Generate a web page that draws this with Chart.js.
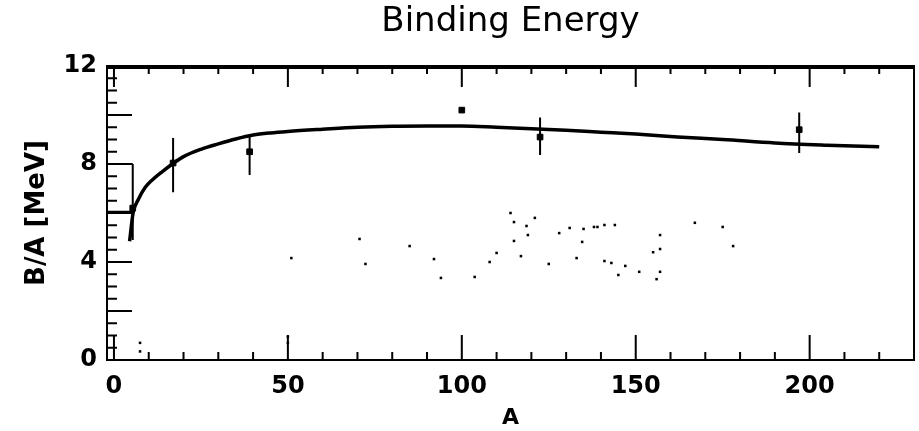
<!DOCTYPE html>
<html><head><meta charset="utf-8">
<script src="https://cdn.jsdelivr.net/npm/chart.js@4/dist/chart.umd.min.js"></script>
<style>html,body{margin:0;padding:0;background:#fff}canvas{display:block}</style>
</head><body>
<canvas id="c" width="919" height="431"></canvas>
<script>
const titleText = 'Binding Energy';
const xTitle = 'A';
const yTitle = 'B/A [MeV]';
const xTickValues = [0, 50, 100, 150, 200];
const yTickValues = [0, 4, 8, 12];

// smooth curve (mass-formula fit)
const curveA = [4.5, 5.5, 7, 9, 11, 14, 17, 20, 25, 30, 35, 40, 45, 50, 60, 70, 80, 90, 100, 110, 120, 130, 140, 150, 162, 175, 190, 205, 220];
const curveY = [4.85, 6.0, 6.55, 7.05, 7.35, 7.7, 8.02, 8.3, 8.6, 8.82, 9.02, 9.18, 9.27, 9.33, 9.42, 9.5, 9.54, 9.55, 9.55, 9.5, 9.44, 9.38, 9.3, 9.22, 9.1, 9.0, 8.86, 8.77, 8.7];

// measured points with error bars
const pointA = [5.4, 17, 39, 100, 122.5, 197];
const pointY = [6.2, 8.04, 8.5, 10.2, 9.1, 9.4];
const errLow = [4.9, 6.85, 7.55, null, 8.37, 8.45];
const errHigh = [8.0, 9.06, 9.15, null, 9.9, 10.1];

// bracket at the left (horizontal marks at 8 and 6)
const boxA = [-2, 5.4, null, -2, 5.4];
const boxY = [8, 8, null, 6.05, 6.05];

// faint scattered specks
const noiseA = [51, 70.6, 72.3, 85, 92, 94, 103.7, 108, 110, 114, 115, 115, 118.6, 119, 121, 117, 125, 128, 131, 133, 134.6, 135, 138, 139, 141, 144, 141, 143, 147, 145, 151, 157, 157, 155, 157, 156, 167, 175, 178, 7.5, 7.5, 50, 50];
const noiseY = [4.16, 4.94, 3.92, 4.65, 4.12, 3.35, 3.39, 4.0, 4.37, 6.0, 5.63, 4.86, 5.47, 5.1, 5.8, 4.24, 3.92, 5.18, 5.39, 4.16, 4.82, 5.35, 5.43, 5.43, 5.51, 5.51, 4.04, 3.96, 3.84, 3.47, 3.6, 5.1, 4.53, 4.4, 3.6, 3.3, 5.6, 5.43, 4.65, 0.35, 0.7, 0.7, 0.95];

const curveData = curveA.map((a, i) => ({x: a, y: curveY[i]}));
const pointData = pointA.map((a, i) => ({x: a, y: pointY[i]}));
const errData = [];
pointA.forEach((a, i) => {
  if (errLow[i] === null) return;
  errData.push({x: a, y: errLow[i]}, {x: a, y: errHigh[i]}, {x: a, y: null});
});
const boxData = boxA.map((a, i) => ({x: a === null ? 0 : a, y: boxY[i]}));
const noiseData = noiseA.map((a, i) => ({x: a, y: noiseY[i]}));

const frameTicks = {
  id: 'frameTicks',
  afterDraw(chart) {
    const ctx = chart.ctx;
    const xs = chart.scales.x, ys = chart.scales.y;
    const {left, right, top, bottom} = chart.chartArea;
    ctx.save();
    ctx.strokeStyle = '#000';
    ctx.lineWidth = 2;
    ctx.beginPath();
    for (let v = 0; v <= 220; v += 10) {
      const px = xs.getPixelForValue(v);
      const major = v % 50 === 0;
      ctx.moveTo(px, bottom); ctx.lineTo(px, bottom - (major ? 25 : 8));
      ctx.moveTo(px, top); ctx.lineTo(px, top + (major ? 21 : 8));
    }
    for (let v = 0; v <= 12; v += 0.5) {
      const py = ys.getPixelForValue(v);
      const major = v % 2 === 0;
      ctx.moveTo(left, py); ctx.lineTo(left + (major ? 25 : 10), py);
    }
    ctx.stroke();
    ctx.lineWidth = 2;
    ctx.strokeRect(left, top, right - left, bottom - top);
    ctx.lineWidth = 4;
    ctx.beginPath(); ctx.moveTo(left, top + 1); ctx.lineTo(right, top + 1); ctx.stroke();
    ctx.restore();
  }
};

new Chart(document.getElementById('c'), {
  type: 'line',
  data: {
    datasets: [
      {label: 'fit', data: curveData, borderColor: '#000', borderWidth: 3.5, pointRadius: 0, cubicInterpolationMode: 'monotone', fill: false},
      {label: 'errors', data: errData, borderColor: '#000', borderWidth: 2, pointRadius: 0, spanGaps: false, fill: false},
      {label: 'box', data: boxData, borderColor: '#000', borderWidth: 2, pointRadius: 0, spanGaps: false, fill: false},
      {label: 'points', data: pointData, showLine: false, pointStyle: 'rect', pointRadius: 4, backgroundColor: '#000', borderColor: '#000'},
      {label: 'specks', data: noiseData, showLine: false, pointStyle: 'rect', pointRadius: 1.8, backgroundColor: '#000', borderColor: '#000', borderWidth: 0}
    ]
  },
  options: {
    responsive: false,
    animation: false,
    devicePixelRatio: 1,
    layout: {padding: {top: 0, right: 2, bottom: 0, left: 0}},
    plugins: {
      legend: {display: false},
      tooltip: {enabled: false},
      title: {
        display: true, text: titleText, fullSize: false, color: '#000',
        font: {family: 'DejaVu Sans', size: 34, weight: 'normal'},
        padding: {top: 2, bottom: 23.2}
      }
    },
    scales: {
      x: {
        type: 'linear', min: -2, max: 230,
        afterBuildTicks: s => { s.ticks = xTickValues.map(v => ({value: v})); },
        afterFit: s => { s.height = 71; },
        grid: {display: false, drawTicks: false},
        border: {display: false},
        ticks: {color: '#000', padding: 12, maxRotation: 0, font: {family: 'DejaVu Sans', size: 24, weight: 'bold'}},
        title: {display: true, text: xTitle, color: '#000', font: {family: 'DejaVu Sans', size: 22, weight: 'bold'}, padding: {top: 0, bottom: 0}}
      },
      y: {
        type: 'linear', min: 0, max: 12,
        afterBuildTicks: s => { s.ticks = yTickValues.map(v => ({value: v})); },
        afterFit: s => { s.width = 107; },
        grid: {display: false, drawTicks: false},
        border: {display: false},
        ticks: {color: '#000', padding: 10, font: {family: 'DejaVu Sans', size: 24, weight: 'bold'}},
        title: {display: true, text: yTitle, color: '#000', font: {family: 'DejaVu Sans', size: 26, weight: 'bold'}, padding: {top: 22, bottom: 0}}
      }
    }
  },
  plugins: [frameTicks]
});
</script>
</body></html>
